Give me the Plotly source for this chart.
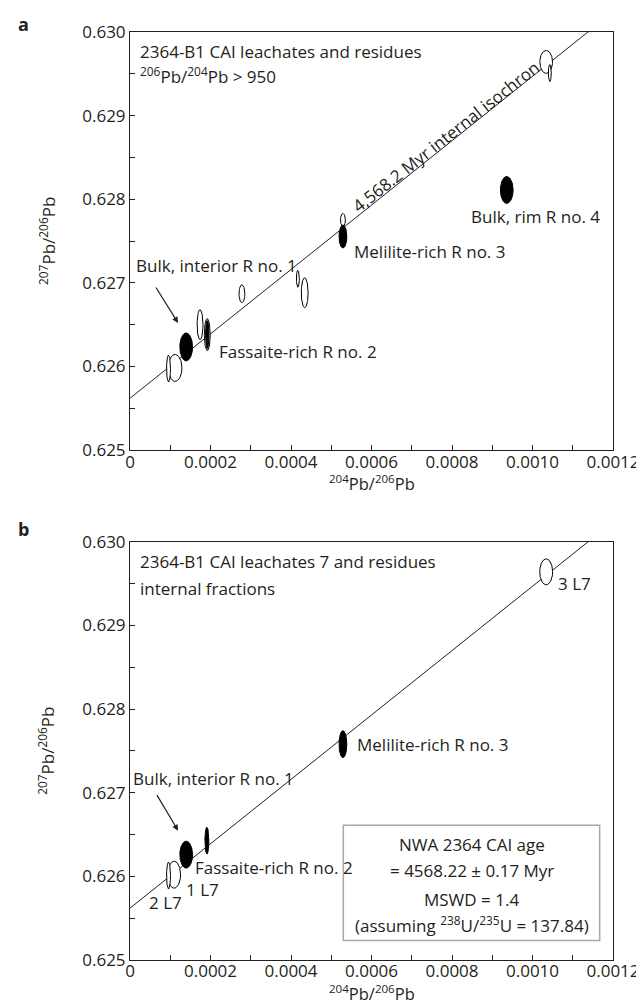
import numpy as np
import plotly.graph_objects as go

# ---------------- data ----------------
# isochron (207Pb/206Pb = intercept + slope * 204Pb/206Pb)
iso_intercept = 0.62562
iso_slope = 3.85

# panel a ellipses: centre x, centre y, half-width, half-height, filled?
a_x = [0.000112, 0.0000957, 0.0001396, 0.000174, 0.000192, 0.000192, 0.000278,
       0.000417, 0.000434, 0.000529, 0.000529, 0.000936, 0.001034, 0.001043]
a_y = [0.625983, 0.625975, 0.626234, 0.626500, 0.626381, 0.626381, 0.626870,
       0.627049, 0.626882, 0.627753, 0.627554, 0.628111, 0.629642, 0.629510]
a_ex = [1.7e-5, 4.9e-6, 1.58e-5, 7.3e-6, 7.3e-6, 4.3e-6, 7.3e-6,
        3.7e-6, 8.5e-6, 6.1e-6, 9.7e-6, 1.58e-5, 1.58e-5, 3.7e-6]
a_ey = [0.000161, 0.000161, 0.000167, 0.000179, 0.000191, 0.000167, 0.000107,
        0.000101, 0.000179, 0.000078, 0.000137, 0.000161, 0.000137, 0.000101]
a_fill = [False, False, True, False, False, True, False,
          False, False, False, True, True, False, False]

# panel b ellipses
b_x = [0.0001096, 0.0000957, 0.0001396, 0.000191, 0.000529, 0.001034]
b_y = [0.626020, 0.626010, 0.626260, 0.626427, 0.627581, 0.629642]
b_ex = [1.6e-5, 4.9e-6, 1.58e-5, 4.9e-6, 9.7e-6, 1.6e-5]
b_ey = [0.000161, 0.000161, 0.000161, 0.000161, 0.000161, 0.000155]
b_fill = [False, False, True, True, True, False]

x_tickvals = [round(i * 0.0001, 4) for i in range(13)]
x_ticktext = ["0", "", "0.0002", "", "0.0004", "", "0.0006", "", "0.0008", "",
              "0.0010", "", "0.0012"]
y_tickvals = [0.625, 0.6255, 0.626, 0.6265, 0.627, 0.6275, 0.628, 0.6285,
              0.629, 0.6295, 0.630]
y_ticktext = ["0.625", "", "0.626", "", "0.627", "", "0.628", "", "0.629", "", "0.630"]

TXT = "#231f20"
FONT = "Open Sans"
FS = 17

fig = go.Figure()
theta = np.linspace(0, 2 * np.pi, 80)

for xa, ya in (("x", "y"), ("x2", "y2")):
    xl = np.array([0.0, 0.0012])
    fig.add_trace(go.Scatter(x=xl, y=iso_intercept + iso_slope * xl, mode="lines",
                             line=dict(color=TXT, width=1), xaxis=xa, yaxis=ya,
                             hoverinfo="skip", showlegend=False))


def add_ellipses(xs, ys, exs, eys, fills, xa, ya):
    for cx, cy, ex, ey, f in zip(xs, ys, exs, eys, fills):
        fig.add_trace(go.Scatter(
            x=cx + ex * np.cos(theta), y=cy + ey * np.sin(theta),
            mode="lines", fill="toself",
            fillcolor="black" if f else "white",
            line=dict(color="black", width=1),
            xaxis=xa, yaxis=ya, showlegend=False, hoverinfo="skip"))


add_ellipses(a_x, a_y, a_ex, a_ey, a_fill, "x", "y")
add_ellipses(b_x, b_y, b_ex, b_ey, b_fill, "x2", "y2")

axis_common = dict(showline=True, mirror=True, linecolor=TXT, linewidth=1,
                   ticks="inside", ticklen=5, tickcolor=TXT, tickwidth=1,
                   showgrid=False, zeroline=False,
                   tickfont=dict(family=FONT, size=17, color=TXT))

fig.update_layout(
    width=644, height=1004,
    margin=dict(l=122, r=30, t=22, b=52),
    paper_bgcolor="white", plot_bgcolor="white",
    showlegend=False,
    font=dict(family=FONT, color=TXT, size=FS),
    xaxis=dict(domain=[0, 1], anchor="y", range=[0, 0.0012], ticklabelstandoff=-4,
               tickvals=x_tickvals, ticktext=x_ticktext, **axis_common),
    yaxis=dict(domain=[0.54946, 1], anchor="x", range=[0.625, 0.630],
               tickvals=y_tickvals, ticktext=y_ticktext, **axis_common),
    xaxis2=dict(domain=[0, 1], anchor="y2", range=[0, 0.0012], ticklabelstandoff=-4,
                tickvals=x_tickvals, ticktext=x_ticktext, **axis_common),
    yaxis2=dict(domain=[0, 0.45054], anchor="x2", range=[0.625, 0.630],
                tickvals=y_tickvals, ticktext=y_ticktext, **axis_common),
)

ann = []


def txt(text, x, y, xr, yr, xanchor="left", size=FS, **kw):
    ann.append(dict(text=text, x=x, y=y, xref=xr, yref=yr, xanchor=xanchor,
                    yanchor="middle", showarrow=False,
                    font=dict(family=FONT, size=size, color=TXT), **kw))


# panel a
txt("2364-B1 CAI leachates and residues", 0.00002, 0.629761, "x", "y")
txt("<sup>206</sup>Pb/<sup>204</sup>Pb &gt; 950", 0.00002, 0.62948, "x", "y")
txt("Bulk, rim R no. 4", 0.000843, 0.627789, "x", "y")
txt("Melilite-rich R no. 3", 0.000552, 0.627375, "x", "y")
txt("Bulk, interior R no. 1", 0.0000100, 0.627204, "x", "y")
txt("Fassaite-rich R no. 2", 0.0002155, 0.626181, "x", "y")
txt("4,568.2 Myr internal isochron", 0.000785, 0.628750, "x", "y",
    xanchor="center", textangle=-38.2)
ann.append(dict(text="", x=0.0001194, y=0.626520, xref="x", yref="y",
                showarrow=True, ax=-23, ay=-37, arrowhead=2, arrowsize=1,
                arrowwidth=1.2, arrowcolor=TXT))

# panel b
txt("2364-B1 CAI leachates 7 and residues", 0.00002, 0.629761, "x2", "y2")
txt("internal fractions", 0.00002, 0.62944, "x2", "y2")
txt("3 L7", 0.001059, 0.629505, "x2", "y2")
txt("Melilite-rich R no. 3", 0.000560, 0.627581, "x2", "y2")
txt("Bulk, interior R no. 1", 0.0000030, 0.627167, "x2", "y2")
txt("Fassaite-rich R no. 2", 0.000156, 0.626110, "x2", "y2")
txt("1 L7", 0.0001330, 0.625842, "x2", "y2")
txt("2 L7", 0.0000410, 0.625684, "x2", "y2")
ann.append(dict(text="", x=0.0001194, y=0.626547, xref="x2", yref="y2",
                showarrow=True, ax=-22, ay=-37, arrowhead=2, arrowsize=1,
                arrowwidth=1.2, arrowcolor=TXT))

box_cx = 0.0008488
txt("NWA 2364 CAI age", box_cx, 0.626380, "x2", "y2", xanchor="center")
txt("= 4568.22 ± 0.17 Myr", box_cx, 0.626072, "x2", "y2", xanchor="center")
txt("MSWD = 1.4", box_cx, 0.625723, "x2", "y2", xanchor="center")
txt("(assuming <sup>238</sup>U/<sup>235</sup>U = 137.84)", box_cx, 0.625425,
    "x2", "y2", xanchor="center")

fig.add_shape(type="rect", xref="x2", yref="y2", x0=0.00053, x1=0.0011669,
              y0=0.625234, y1=0.626611, line=dict(color="#a8a8a8", width=1.5),
              fillcolor="white", layer="below")

# axis titles
for xd, yd in (("x domain", "y domain"), ("x2 domain", "y2 domain")):
    txt("<sup>204</sup>Pb/<sup>206</sup>Pb", 0.5, -0.079, xd, yd, xanchor="center",
        size=16.5)
    txt("<sup>207</sup>Pb/<sup>206</sup>Pb", -0.172, 0.5, xd, yd, xanchor="center",
        textangle=-90)

# panel letters
ann.append(dict(text="<b>a</b>", x=(14 - 122) / 492, y=(952 - 14) / 930,
                xref="paper", yref="paper",
                xanchor="center", yanchor="middle", showarrow=False,
                font=dict(family=FONT, size=18, color=TXT)))
ann.append(dict(text="<b>b</b>", x=(14 - 122) / 492, y=(952 - 520) / 930,
                xref="paper", yref="paper", xanchor="center", yanchor="middle",
                showarrow=False, font=dict(family=FONT, size=18, color=TXT)))

fig.update_layout(annotations=ann)
fig.write_html("out.html")
